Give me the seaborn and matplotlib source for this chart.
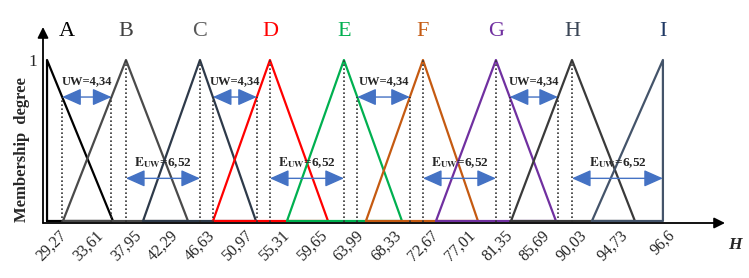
import numpy as np
import pandas as pd
import seaborn as sns
import matplotlib
matplotlib.use("Agg")
import matplotlib.pyplot as plt

sns.set_theme(style="white")
plt.rcParams['font.family'] = ['Liberation Serif', 'DejaVu Serif']
plt.rcParams['mathtext.fontset'] = 'stix'

# fuzzy sets (triangles) on H
sets = ['A', 'B', 'C', 'D', 'E', 'F', 'G', 'H', 'I']
left_foot = [28.73, 30.59, 39.94, 48.11, 56.75, 65.97, 74.15, 82.91, 92.36]
peak = [28.73, 37.95, 46.59, 54.76, 63.40, 72.63, 81.15, 90.03, 100.65]
right_foot = [36.43, 45.19, 53.13, 61.54, 70.18, 79.05, 88.16, 97.38, 100.65]

line_colors = ['#000000', '#4a4a4a', '#2e3a4a', '#ff0000', '#00b050',
               '#c55a11', '#7030a0', '#3a3a3a', '#44546a']
letter_colors = ['#000000', '#404040', '#595959', '#ff0000', '#00b050',
                 '#c55a11', '#7030a0', '#3b4656', '#1f3864']

tick_values = [29.27, 33.61, 37.95, 42.29, 46.63, 50.97, 55.31, 59.65, 63.99,
               68.33, 72.67, 77.01, 81.35, 85.69, 90.03, 94.73]
tick_labels = ['29,27', '33,61', '37,95', '42,29', '46,63', '50,97', '55,31',
               '59,65', '63,99', '68,33', '72,67', '77,01', '81,35', '85,69',
               '90,03', '94,73', '96,6']

uw_pairs = [(0, 1), (2, 3), (4, 5), (6, 7)]
euw_pairs = [(1, 2), (3, 4), (5, 6), (7, 8)]
uw_level = 0.77
uw_text = 'UW=4,34'
euw_text = r'$\mathbf{E}_{\mathbf{UW}}$=6,52'

rows = []
for s, a, b, c in zip(sets, left_foot, peak, right_foot):
    for x, y in [(a, 0), (b, 1), (c, 0), (a, 0)]:
        rows.append({'set': s, 'H': x, 'mu': y})
df = pd.DataFrame(rows)

fig = plt.figure(figsize=(7.49, 2.78), dpi=100)
ax = fig.add_axes([43 / 749, 55 / 278, 682 / 749, 196 / 278])

sns.lineplot(data=df, x='H', y='mu', hue='set', sort=False, estimator=None,
             palette=line_colors, legend=False, lw=1.6, ax=ax)

ax.set_xlim(28.26, 107.9)
ax.set_ylim(-0.0124, 1.205)
for sp in ax.spines.values():
    sp.set_visible(False)

# axis arrows
ax.annotate('', xy=(1, 0), xytext=(0, 0), xycoords='axes fraction',
            arrowprops=dict(arrowstyle='-|>', color='black', lw=1.3,
                            mutation_scale=16, shrinkA=0, shrinkB=0))
ax.annotate('', xy=(0, 1), xytext=(0, 0), xycoords='axes fraction',
            arrowprops=dict(arrowstyle='-|>', color='black', lw=1.3,
                            mutation_scale=16, shrinkA=0, shrinkB=0))

# last label (96,6) sits under the right edge of set I
ax.set_xticks(tick_values + [peak[-1]])
ax.set_xticklabels(tick_labels, rotation=45, fontsize=11.5)
ax.set_yticks([1])
ax.set_yticklabels(['1'], fontsize=12.5)
ax.tick_params(axis='both', length=0, pad=3)
ax.tick_params(axis='y', pad=4)
ax.set_xlabel('')
ax.set_ylabel('')
ax.grid(False)

dot = (0, (1, 1.4))
# dotted lines from peaks
ax.vlines(peak[1:8], -0.03, 1, colors='#333333', linestyles=[dot], lw=1.2)

# UW arrows between falling side of one set and rising side of the next
for i, j in uw_pairs:
    x0 = peak[i] + (1 - uw_level) * (right_foot[i] - peak[i])
    x1 = left_foot[j] + uw_level * (peak[j] - left_foot[j])
    ax.vlines([x0, x1], -0.03, uw_level, colors='#333333', linestyles=[dot], lw=1.2)
    ax.annotate('', xy=(x1, uw_level), xytext=(x0, uw_level),
                arrowprops=dict(arrowstyle='<|-|>,head_length=0.9,head_width=0.4',
                                color='#4472c4', lw=1, mutation_scale=13,
                                shrinkA=0, shrinkB=0))
    ax.text((x0 + x1) / 2, uw_level + 0.1, uw_text, ha='center', va='center',
            fontsize=9, fontweight='bold')

# EUW arrows between peaks
for i, j in euw_pairs:
    ax.annotate('', xy=(peak[j], 0.265), xytext=(peak[i], 0.265),
                arrowprops=dict(arrowstyle='<|-|>,head_length=0.9,head_width=0.4',
                                color='#4472c4', lw=1, mutation_scale=13,
                                shrinkA=0, shrinkB=0))
    ax.text((peak[i] + peak[j]) / 2, 0.36, euw_text, ha='center', va='center',
            fontsize=9.5, fontweight='bold')

# set letters above the peaks
for k, (s, p, c) in enumerate(zip(sets, peak, letter_colors)):
    dx = 14 if k == 0 else 0
    ax.annotate(s, xy=(p, 1.175), xytext=(dx, 0), textcoords='offset points',
                ha='center', va='center', fontsize=16, color=c)

fig.text(22 / 749, 1 - 150 / 278, 'Membership  degree', rotation=90,
         ha='center', va='center', fontsize=12, fontweight='bold')
fig.text(735 / 749, 1 - 245 / 278, 'H', ha='center', va='center',
         fontsize=12.5, fontweight='bold', style='italic')

fig.savefig('out.png', dpi=100)
